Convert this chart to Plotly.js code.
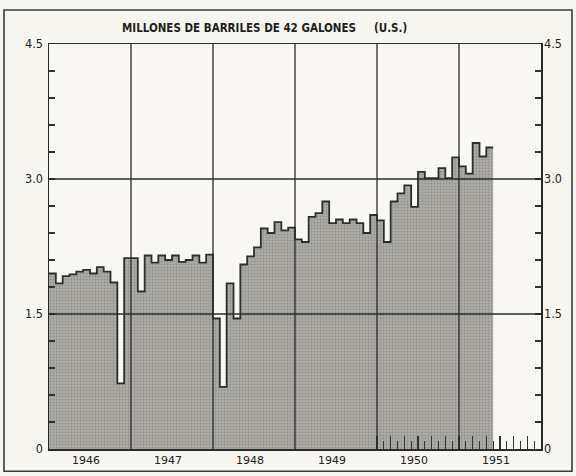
<!DOCTYPE html>
<html>
<head>
<meta charset="utf-8">
<script src="https://cdn.plot.ly/plotly-3.0.1.min.js"></script>
<style>html,body{margin:0;padding:0;background:#f6f5f0;}</style>
</head>
<body>
<div id="chart" style="width:576px;height:476px;"></div>
<script>
// Producción mensual, millones de barriles de 42 galones (U.S.)
const years = [1946, 1947, 1948, 1949, 1950, 1951];
const yearLabels = ['1946', '1947', '1948', '1949', '1950', '1951'];
const v1946 = [1.95, 1.84, 1.92, 1.94, 1.97, 1.99, 1.95, 2.02, 1.97, 1.85, 0.73, 2.12];
const v1947 = [2.12, 1.75, 2.15, 2.07, 2.15, 2.10, 2.15, 2.08, 2.10, 2.15, 2.07, 2.16];
const v1948 = [1.45, 0.69, 1.84, 1.45, 2.05, 2.14, 2.24, 2.45, 2.40, 2.52, 2.43, 2.46];
const v1949 = [2.33, 2.30, 2.58, 2.62, 2.75, 2.51, 2.55, 2.51, 2.55, 2.51, 2.40, 2.60];
const v1950 = [2.54, 2.30, 2.75, 2.84, 2.93, 2.69, 3.08, 3.01, 3.01, 3.12, 3.01, 3.24];
const v1951 = [3.14, 3.06, 3.40, 3.25, 3.35];
const yTickVals = [0, 1.5, 3.0, 4.5];
const yTickText = ['0', '1.5', '3.0', '4.5'];
const gridYears = [1947, 1948, 1949, 1950, 1951];
const gridValues = [1.5, 3.0];
const titleText = 'MILLONES DE BARRILES DE 42 GALONES&nbsp;&nbsp;&nbsp;&nbsp;&nbsp;(U.S.)';

const series = [v1946, v1947, v1948, v1949, v1950, v1951];
const xs = [], ys = [];
series.forEach((arr, i) => {
  arr.forEach((v, m) => { xs.push(years[i] + m / 12); ys.push(v); });
});
// close the last month step
xs.push(years[5] + v1951.length / 12);
ys.push(v1951[v1951.length - 1]);

// month ticks along the bottom for 1950-1951
const tallTicks = [], shortTicks = [];
for (let y = 1950; y < 1952; y++) {
  for (let m = 0; m < 12; m++) {
    const t = y + m / 12;
    if (m % 2 === 0) tallTicks.push(t); else shortTicks.push(t);
  }
}

const trace = {
  x: xs, y: ys, type: 'scatter', mode: 'lines',
  line: {shape: 'hv', color: '#2e2e2e', width: 1.8},
  fill: 'tozeroy',
  fillcolor: 'rgb(172,170,164)',
  fillpattern: {shape: '.', bgcolor: 'rgb(174,172,166)', fgcolor: 'rgb(145,143,137)', size: 3, solidity: 0.3},
  hoverinfo: 'skip', showlegend: false
};

const shapes = [];
gridYears.forEach(g => shapes.push({type: 'line', xref: 'x', yref: 'paper', x0: g, x1: g, y0: 0, y1: 1,
  line: {color: '#2b2b2b', width: 1.3}, layer: 'above'}));
gridValues.forEach(g => shapes.push({type: 'line', xref: 'paper', yref: 'y', x0: 0, x1: 1, y0: g, y1: g,
  line: {color: '#2b2b2b', width: 1.3}, layer: 'above'}));
// outer frame of the figure
shapes.push({type: 'rect', xref: 'paper', yref: 'paper', x0: -0.0915, x1: 1.063, y0: -0.055, y1: 1.084,
  line: {color: '#3a3a3a', width: 1.6}, fillcolor: 'rgba(0,0,0,0)', layer: 'below'});

const tickFont = {family: 'DejaVu Sans Condensed, Liberation Sans Narrow, sans-serif', size: 12.5, color: '#222'};

const layout = {
  width: 576, height: 476,
  margin: {l: 49, r: 35, t: 44, b: 27, pad: 0},
  paper_bgcolor: '#f6f5f0', plot_bgcolor: '#f8f7f3',
  showlegend: false,
  xaxis: {
    range: [1946, 1952], tickvals: years.map(y => y + 0.45), ticktext: yearLabels,
    ticks: '', showgrid: false, zeroline: false, showline: true, mirror: true,
    linecolor: '#2a2a2a', linewidth: 1.5, layer: 'above traces', fixedrange: true,
    tickfont: {family: 'DejaVu Sans, sans-serif', size: 11, color: '#222'}
  },
  xaxis2: {
    overlaying: 'x', anchor: 'y', side: 'bottom', range: [1946, 1952],
    tickvals: tallTicks, ticks: 'inside', ticklen: 13, tickwidth: 1.1, tickcolor: '#333',
    showticklabels: false, showgrid: false, zeroline: false, showline: false, layer: 'above traces'
  },
  xaxis3: {
    overlaying: 'x', anchor: 'y', side: 'bottom', range: [1946, 1952],
    tickvals: shortTicks, ticks: 'inside', ticklen: 8, tickwidth: 1.1, tickcolor: '#333',
    showticklabels: false, showgrid: false, zeroline: false, showline: false, layer: 'above traces'
  },
  yaxis: {
    range: [0, 4.5], tickvals: yTickVals, ticktext: yTickText, ticks: 'inside', ticklen: 1,
    tickcolor: '#333', showgrid: false, zeroline: false, showline: true, mirror: true,
    linecolor: '#2a2a2a', linewidth: 1.5, layer: 'above traces', fixedrange: true,
    minor: {dtick: 0.3, tick0: 0, ticks: 'inside', ticklen: 6, tickcolor: '#333', tickwidth: 1.3, showgrid: false},
    tickfont: tickFont, ticklabelstandoff: 2
  },
  yaxis2: {
    overlaying: 'y', side: 'right', anchor: 'x', range: [0, 4.5], tickvals: yTickVals, ticktext: yTickText,
    ticks: 'inside', ticklen: 1, tickcolor: '#333', showgrid: false, zeroline: false, showline: false,
    layer: 'above traces',
    minor: {dtick: 0.3, tick0: 0, ticks: 'inside', ticklen: 6, tickcolor: '#333', tickwidth: 1.3, showgrid: false},
    tickfont: tickFont, ticklabelstandoff: 2
  },
  shapes: shapes,
  annotations: [{
    text: titleText, xref: 'paper', yref: 'paper', x: 0.437, y: 1.0, yshift: 16,
    xanchor: 'center', yanchor: 'middle', showarrow: false,
    font: {family: 'DejaVu Sans Condensed, Liberation Sans Narrow, sans-serif', size: 11.5, color: '#1e1e1e', weight: 'bold'}
  }]
};

const traces = [trace,
  {x: [1946, 1952], y: [null, null], xaxis: 'x2', yaxis: 'y', type: 'scatter', mode: 'lines', hoverinfo: 'skip', showlegend: false},
  {x: [1946, 1952], y: [null, null], xaxis: 'x3', yaxis: 'y', type: 'scatter', mode: 'lines', hoverinfo: 'skip', showlegend: false},
  {x: [1946, 1952], y: [null, null], xaxis: 'x', yaxis: 'y2', type: 'scatter', mode: 'lines', hoverinfo: 'skip', showlegend: false}
];

Plotly.newPlot('chart', traces, layout, {staticPlot: true, displayModeBar: false});
</script>
</body>
</html>
